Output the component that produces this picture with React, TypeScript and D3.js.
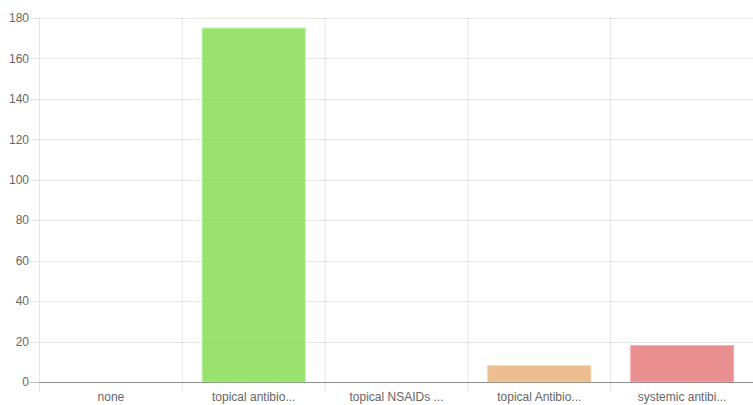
import React from "react";
import * as d3 from "d3";

const categories = ["none", "topical antibio...", "topical NSAIDs ...", "topical Antibio...", "systemic antibi..."];
const values = [0, 175, 0, 8, 18];
const barColors = ["rgba(54,162,235,0.6)", "rgba(128,219,76,0.8)", "rgba(153,102,255,0.6)", "rgba(230,168,105,0.75)", "rgba(226,105,105,0.75)"];
const borderColors = ["rgba(54,162,235,1)", "rgba(170,240,140,1)", "rgba(153,102,255,1)", "rgba(245,200,160,1)", "rgba(245,170,170,1)"];
const yTicks = [0, 20, 40, 60, 80, 100, 120, 140, 160, 180];

export default function App() {
  const W = 753, H = 405;
  const left = 39.5, right = 753.5, top = 18, bottom = 382;
  const x = d3.scaleBand<string>().domain(categories).range([left, right]).paddingInner(0).paddingOuter(0);
  const y = d3.scaleLinear().domain([0, 180]).range([bottom, top]);
  const bw = x.bandwidth() * 0.72;
  const font = "'Liberation Sans', Arial, Helvetica, sans-serif";
  const grid = "rgba(0,0,0,0.1)";
  return (
    <svg width={W} height={H} style={{ position: "absolute", left: 0, top: 0 }}>
      {yTicks.map((t) => (
        <g key={t}>
          <line x1={30} x2={right} y1={Math.round(y(t)) + 0.5} y2={Math.round(y(t)) + 0.5}
            stroke={t === 0 ? "rgba(0,0,0,0.25)" : grid} strokeWidth={1} />
          <text x={29} y={y(t)} dy="0.35em" textAnchor="end" fontSize={12} fill="#666" fontFamily={font}>{t}</text>
        </g>
      ))}
      {categories.map((c, i) => (
        <line key={c} x1={x(c)!} x2={x(c)!} y1={top} y2={bottom + 10} stroke={grid} strokeWidth={1} />
      ))}
      {categories.map((c, i) => {
        const cx = x(c)! + x.bandwidth() / 2;
        const v = values[i];
        return (
          <g key={c}>
            {v > 0 && (
              <rect x={cx - bw / 2} y={y(v)} width={bw} height={bottom - y(v)}
                fill={barColors[i]} stroke={borderColors[i]} strokeWidth={1} />
            )}
            <text x={cx} y={397} dy="0.35em" textAnchor="middle" fontSize={12} fill="#666" fontFamily={font}>{c}</text>
          </g>
        );
      })}
      <line x1={left} x2={right} y1={bottom + 0.5} y2={bottom + 0.5} stroke="rgba(0,0,0,0.25)" />
    </svg>
  );
}
